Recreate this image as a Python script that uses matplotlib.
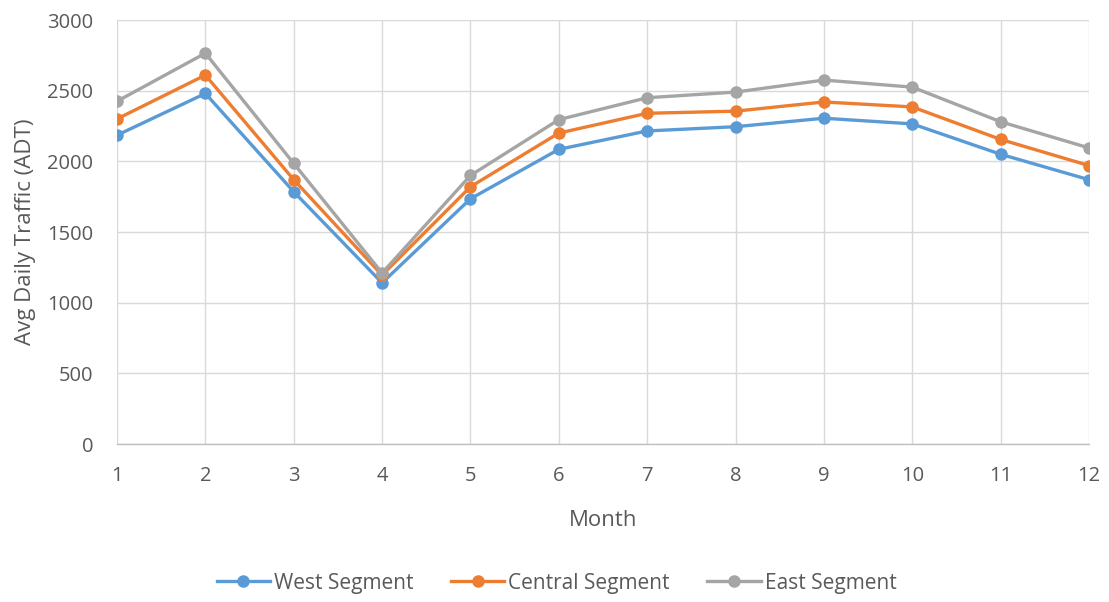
import matplotlib
matplotlib.use("Agg")
import matplotlib.pyplot as plt

months = list(range(1, 13))
west = [2185, 2480, 1785, 1140, 1735, 2085, 2215, 2245, 2305, 2265, 2050, 1870]
central = [2300, 2610, 1870, 1195, 1820, 2200, 2340, 2355, 2420, 2385, 2155, 1970]
east = [2425, 2765, 1985, 1210, 1900, 2295, 2450, 2490, 2575, 2525, 2280, 2095]

series = [
    ("West Segment", west, "#5b9bd5"),
    ("Central Segment", central, "#ed7d31"),
    ("East Segment", east, "#a5a5a5"),
]

plt.rcParams["font.family"] = ["Open Sans", "DejaVu Sans"]
text_color = "#595959"

fig = plt.figure(figsize=(11.09, 6.02), dpi=100)
ax = fig.add_axes([117 / 1109, 1 - 444 / 602, (1089 - 117) / 1109, (444 - 20) / 602])

for label, vals, color in series:
    ax.plot(months, vals, color=color, linewidth=2.4, marker="o",
            markersize=8, label=label, zorder=3)

ax.set_xlim(1, 12)
ax.set_ylim(0, 3000)
ax.set_xticks(months)
ax.set_yticks(range(0, 3001, 500))
ax.grid(True, color="#d9d9d9", linewidth=1.0, zorder=0)

for side in ["top", "right", "left"]:
    ax.spines[side].set_visible(False)
ax.spines["bottom"].set_color("#bfbfbf")
ax.spines["bottom"].set_linewidth(1.0)

ax.tick_params(axis="both", colors=text_color, labelsize=14.5, length=0)
ax.tick_params(axis="y", pad=17)
ax.tick_params(axis="x", pad=16)

ax.set_xlabel("Month", color=text_color, fontsize=16)
ax.set_ylabel("Avg Daily Traffic (ADT)", color=text_color, fontsize=16, labelpad=8)
ax.xaxis.set_label_coords(0.5, -0.155)

leg = fig.legend(loc="center", bbox_to_anchor=(0.502, 1 - 583 / 602), ncol=3,
                 frameon=False, fontsize=15, handlelength=2.55,
                 columnspacing=1.8, handletextpad=0.2)
for t in leg.get_texts():
    t.set_color(text_color)

fig.savefig("out.png", dpi=100)
